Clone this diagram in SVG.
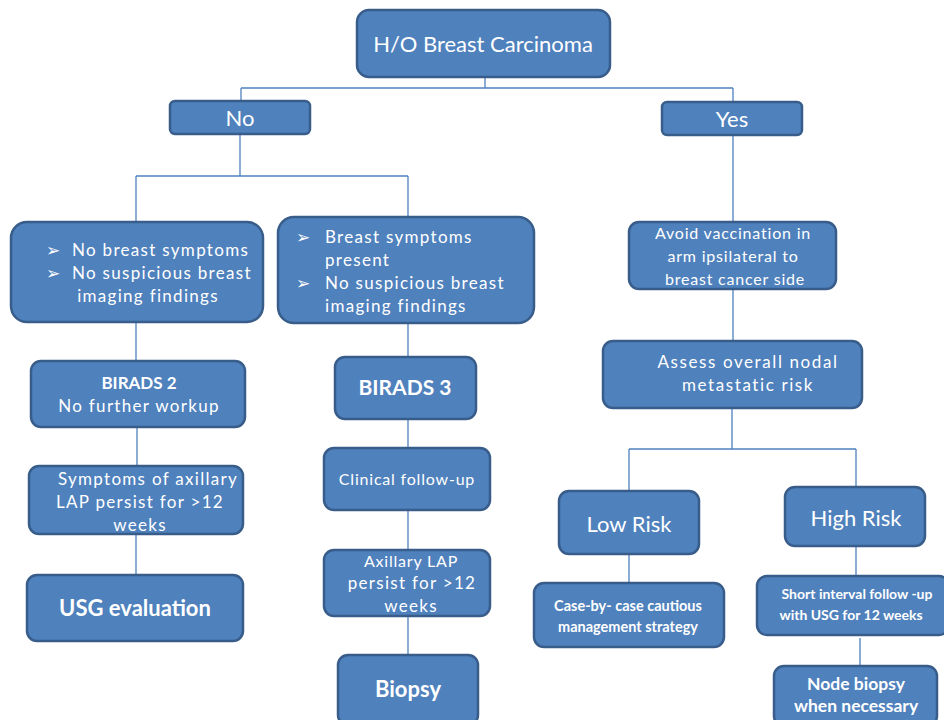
<svg xmlns="http://www.w3.org/2000/svg" width="944" height="720" viewBox="0 0 944 720">
<style>
.box{fill:#4F81BD;stroke:#385D8A;stroke-width:2.5}
.t{fill:#fff;font-family:Lato,"Open Sans","Liberation Sans",sans-serif;font-size:17px;text-anchor:middle;letter-spacing:1.3px}
.n{font-size:16px;letter-spacing:0.8px}
.l{text-anchor:start}
.b{font-weight:bold;letter-spacing:0}
.big{font-size:22px;letter-spacing:0}
.sm{font-size:14.5px}
.blt{font-family:"DejaVu Sans",sans-serif;font-size:17px}
.c{fill:none;stroke:#4F81BD;stroke-width:1.3}
</style>
<rect width="944" height="720" fill="#fff"/>
<g id="connectors">
<path class="c" d="M485 77V88M241 88H733M241 88V101M733 88V102"/>
<path class="c" d="M240 134V176M136 176H408M136 176V222M408 176V217"/>
<path class="c" d="M136 322V361M137 427V466M136 534V575"/>
<path class="c" d="M408 323V357M408 419V448M408 510V550M408 616V655"/>
<path class="c" d="M733 135V222M733 289V341M732 408V449M629 449H856M629 449V491M856 449V487"/>
<path class="c" d="M629 554V583M856 546V576M860 638V666"/>
</g>
<g id="root"><rect class="box" x="357" y="10" width="253" height="67" rx="12"/><text class="t big" x="483" y="52">H/O Breast Carcinoma</text></g>
<g id="no"><rect class="box" x="170" y="101" width="140" height="33" rx="5"/><text class="t big" x="240" y="126">No</text></g>
<g id="yes"><rect class="box" x="662" y="102" width="140" height="33" rx="5"/><text class="t big" x="732" y="127">Yes</text></g>
<g id="no-symptoms"><rect class="box" x="11" y="222" width="252" height="100" rx="16"/>
<text class="t l" x="46" y="256"><tspan class="blt">➢</tspan><tspan x="72">No breast symptoms</tspan></text>
<text class="t l" x="46" y="279"><tspan class="blt">➢</tspan><tspan x="72">No suspicious breast</tspan></text>
<text class="t" x="148" y="302">imaging findings</text></g>
<g id="symptoms"><rect class="box" x="278" y="217" width="256" height="106" rx="16"/>
<text class="t l" x="296" y="243"><tspan class="blt">➢</tspan><tspan x="325">Breast symptoms</tspan></text>
<text class="t l" x="325" y="266">present</text>
<text class="t l" x="296" y="289"><tspan class="blt">➢</tspan><tspan x="325">No suspicious breast</tspan></text>
<text class="t l" x="325" y="312">imaging findings</text></g>
<g id="birads2"><rect class="box" x="31" y="361" width="214" height="66" rx="10"/>
<text class="t b" x="139" y="389" style="font-size:17px">BIRADS 2</text>
<text class="t" x="139" y="412">No further workup</text></g>
<g id="axillary-a"><rect class="box" x="29" y="466" width="214" height="68" rx="10"/>
<text class="t" x="148" y="485">Symptoms of axillary</text>
<text class="t" x="140" y="508">LAP persist for &gt;12</text>
<text class="t" x="140" y="531">weeks</text></g>
<g id="usg"><rect class="box" x="27" y="575" width="216" height="66" rx="10"/>
<text class="t b big" x="135" y="616">USG evaluation</text></g>
<g id="birads3"><rect class="box" x="335" y="357" width="141" height="62" rx="10"/>
<text class="t b" x="405" y="395" style="font-size:21px">BIRADS 3</text></g>
<g id="clinical"><rect class="box" x="324" y="448" width="166" height="62" rx="10"/>
<text class="t n" x="407" y="485">Clinical follow-up</text></g>
<g id="axillary-b"><rect class="box" x="324" y="550" width="166" height="66" rx="10"/>
<text class="t n" x="411" y="567">Axillary LAP</text>
<text class="t" x="412" y="589">persist for &gt;12</text>
<text class="t" x="411" y="612">weeks</text></g>
<g id="biopsy"><rect class="box" x="338" y="655" width="140" height="70" rx="10"/>
<text class="t b big" x="408" y="697">Biopsy</text></g>
<g id="avoid"><rect class="box" x="629" y="222" width="207" height="67" rx="10"/>
<text class="t n" x="733" y="239">Avoid vaccination in</text>
<text class="t n" x="733" y="262">arm ipsilateral to</text>
<text class="t n" x="735" y="285">breast cancer side</text></g>
<g id="assess"><rect class="box" x="603" y="341" width="259" height="67" rx="10"/>
<text class="t" x="748" y="368" style="letter-spacing:1.6px">Assess overall nodal</text>
<text class="t" x="748" y="391" style="letter-spacing:1.6px">metastatic risk</text></g>
<g id="low"><rect class="box" x="559" y="491" width="140" height="63" rx="10"/>
<text class="t big" x="629" y="532">Low Risk</text></g>
<g id="high"><rect class="box" x="785" y="487" width="140" height="59" rx="10"/>
<text class="t big" x="856" y="526">High Risk</text></g>
<g id="case"><rect class="box" x="534" y="583" width="190" height="64" rx="10"/>
<text class="t b sm" x="628" y="611">Case-by- case cautious</text>
<text class="t b sm" x="628" y="632">management strategy</text></g>
<g id="short"><rect class="box" x="757" y="576" width="192" height="59" rx="10"/>
<text class="t b" x="857" y="599" style="font-size:14px">Short interval follow  -up</text>
<text class="t b" x="851" y="620" style="font-size:14px">with USG for 12 weeks</text></g>
<g id="node-biopsy"><rect class="box" x="774" y="666" width="163" height="60" rx="10"/>
<text class="t b" x="856" y="690" style="font-size:17.5px">Node biopsy</text>
<text class="t b" x="856" y="712" style="font-size:17.5px">when necessary</text></g>
</svg>
